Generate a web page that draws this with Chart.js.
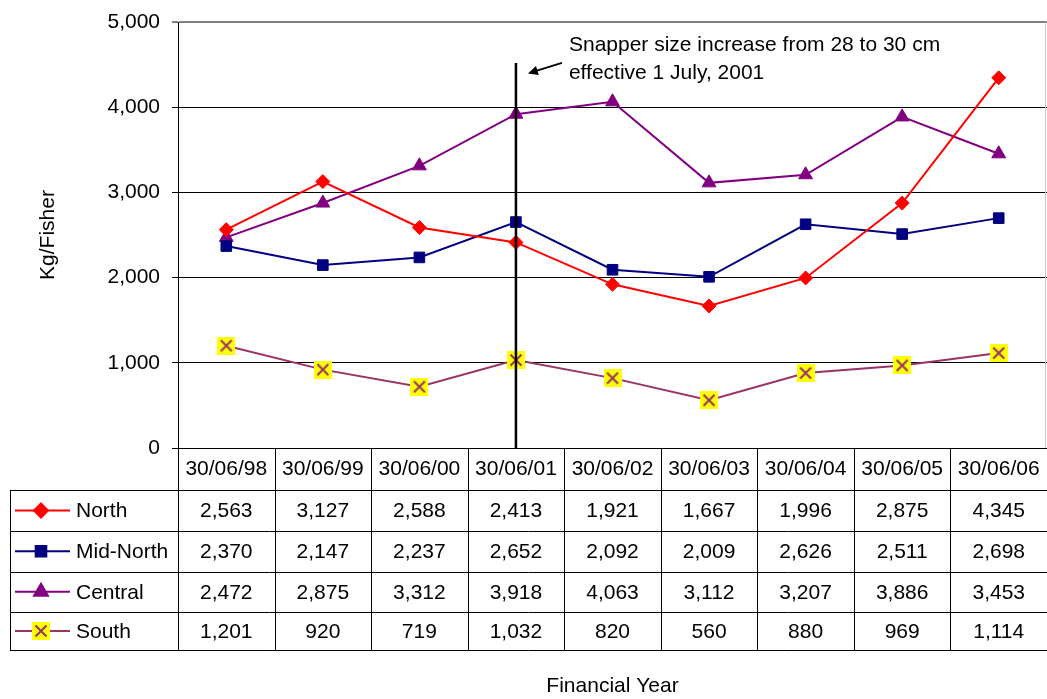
<!DOCTYPE html>
<html>
<head>
<meta charset="utf-8">
<script src="https://cdn.jsdelivr.net/npm/chart.js@4.4.0/dist/chart.umd.min.js"></script>
<style>
  html, body { margin: 0; padding: 0; background: #fff; overflow: hidden; }
  canvas { display: block; }
</style>
</head>
<body>
<canvas id="chart" width="1047" height="699"></canvas>
<script>
// Financial years (end of year) and catch per fisher by region
const years = ['30/06/98', '30/06/99', '30/06/00', '30/06/01', '30/06/02', '30/06/03', '30/06/04', '30/06/05', '30/06/06'];
const north = [2563, 3127, 2588, 2413, 1921, 1667, 1996, 2875, 4345];
const midNorth = [2370, 2147, 2237, 2652, 2092, 2009, 2626, 2511, 2698];
const central = [2472, 2875, 3312, 3918, 4063, 3112, 3207, 3886, 3453];
const south = [1201, 920, 719, 1032, 820, 560, 880, 969, 1114];
const yTicks = [0, 1000, 2000, 3000, 4000, 5000];

// Size-limit change marker
const changeYearIndex = 3;
const changeLineTop = 4520;
const noteLines = ['Snapper size increase from 28 to 30 cm', 'effective 1 July, 2001'];

const FONT_FAMILY = "'Liberation Sans', Arial, sans-serif";
const FONT_SIZE = 21;

// Yellow box with a plum cross, used for the South series
function makeCrossBox(size, fill, stroke) {
  const c = document.createElement('canvas');
  c.width = size; c.height = size;
  const g = c.getContext('2d');
  g.fillStyle = fill;
  g.fillRect(0, 0, size, size);
  g.strokeStyle = stroke;
  g.lineWidth = 2;
  const m = 3.5;
  g.beginPath();
  g.moveTo(m, m); g.lineTo(size - m, size - m);
  g.moveTo(size - m, m); g.lineTo(m, size - m);
  g.stroke();
  return c;
}
const crossBox = makeCrossBox(18, '#FFFF00', '#993366');

const series = [
  { label: 'North', data: north, color: '#FF0000', pointStyle: 'rectRot', radius: 7 },
  { label: 'Mid-North', data: midNorth, color: '#000080', pointStyle: 'rect', radius: 7.5 },
  { label: 'Central', data: central, color: '#800080', pointStyle: 'triangle', radius: 8 },
  { label: 'South', data: south, color: '#993366', pointStyle: crossBox, radius: 9 }
];

const fmt = v => v.toLocaleString('en-US');

function crisp(v) { return Math.round(v) + 0.5; }

// Data table drawn under the plot, aligned to the category scale
const dataTablePlugin = {
  id: 'dataTable',
  afterDraw(chart) {
    const { ctx, chartArea: a, scales: { x } } = chart;
    const n = years.length;
    const centers = years.map((_, i) => x.getPixelForValue(i));
    const bounds = [a.left];
    for (let i = 0; i < n - 1; i++) bounds.push((centers[i] + centers[i + 1]) / 2);
    const rows = [a.bottom + 42, a.bottom + 83, a.bottom + 123.5, a.bottom + 164, a.bottom + 202];
    const tableLeft = 10;

    ctx.save();
    ctx.strokeStyle = '#000';
    ctx.lineWidth = 1;
    ctx.beginPath();
    bounds.forEach(b => { ctx.moveTo(crisp(b), a.bottom); ctx.lineTo(crisp(b), rows[4]); });
    rows.forEach(y => { ctx.moveTo(tableLeft, crisp(y)); ctx.lineTo(a.right, crisp(y)); });
    ctx.moveTo(crisp(tableLeft), rows[0]); ctx.lineTo(crisp(tableLeft), rows[4]);
    ctx.stroke();

    // plot area right edge
    ctx.strokeStyle = '#c8c8c8';
    ctx.beginPath();
    ctx.moveTo(a.right - 1.5, a.top); ctx.lineTo(a.right - 1.5, a.bottom);
    ctx.stroke();

    ctx.font = FONT_SIZE + 'px ' + FONT_FAMILY;
    ctx.textBaseline = 'middle';
    series.forEach((s, r) => {
      const cy = (rows[r] + rows[r + 1]) / 2;
      // legend key
      ctx.strokeStyle = s.color;
      ctx.fillStyle = s.color;
      ctx.lineWidth = 2;
      ctx.beginPath();
      ctx.moveTo(15, cy); ctx.lineTo(70, cy);
      ctx.stroke();
      Chart.helpers.drawPoint(ctx, { pointStyle: s.pointStyle, radius: s.radius, rotation: 0, borderWidth: 1 }, 41, cy);
      ctx.fillStyle = '#000';
      ctx.textAlign = 'left';
      ctx.fillText(s.label, 76, cy + 1);
      // values
      ctx.textAlign = 'center';
      s.data.forEach((v, i) => ctx.fillText(fmt(v), centers[i], cy + 1));
    });
    ctx.restore();
  }
};

// Vertical marker line with an arrowed note
const changeNotePlugin = {
  id: 'changeNote',
  afterDatasetsDraw(chart) {
    const { ctx, chartArea: a, scales: { x, y } } = chart;
    const lx = x.getPixelForValue(changeYearIndex);
    const ty = y.getPixelForValue(changeLineTop);
    ctx.save();
    ctx.strokeStyle = '#000';
    ctx.fillStyle = '#000';
    ctx.lineWidth = 2.5;
    ctx.beginPath();
    ctx.moveTo(lx, ty); ctx.lineTo(lx, a.bottom);
    ctx.stroke();

    // arrow pointing at the line
    const x0 = lx + 46, y0 = ty, x1 = lx + 12, y1 = ty + 10.5;
    const ang = Math.atan2(y1 - y0, x1 - x0);
    ctx.lineWidth = 2;
    ctx.beginPath();
    ctx.moveTo(x0, y0); ctx.lineTo(x1 - Math.cos(ang) * 6, y1 - Math.sin(ang) * 6);
    ctx.stroke();
    ctx.beginPath();
    ctx.moveTo(x1, y1);
    ctx.lineTo(x1 - Math.cos(ang - 0.45) * 11, y1 - Math.sin(ang - 0.45) * 11);
    ctx.lineTo(x1 - Math.cos(ang + 0.45) * 11, y1 - Math.sin(ang + 0.45) * 11);
    ctx.closePath();
    ctx.fill();

    ctx.font = FONT_SIZE + 'px ' + FONT_FAMILY;
    ctx.textAlign = 'left';
    ctx.textBaseline = 'middle';
    ctx.fillText(noteLines[0], lx + 53, ty - 18);
    ctx.fillText(noteLines[1], lx + 53, ty + 10);
    ctx.restore();
  }
};

const font = { family: FONT_FAMILY, size: FONT_SIZE };

new Chart(document.getElementById('chart'), {
  type: 'line',
  data: {
    labels: years,
    datasets: series.map(s => ({
      label: s.label,
      data: s.data,
      borderColor: s.color,
      backgroundColor: s.color,
      borderWidth: 2,
      tension: 0,
      clip: false,
      pointStyle: s.pointStyle,
      pointRadius: s.radius,
      pointHoverRadius: s.radius,
      pointBorderWidth: 1,
      pointBorderColor: s.color,
      pointBackgroundColor: s.color
    }))
  },
  options: {
    responsive: false,
    maintainAspectRatio: false,
    devicePixelRatio: 1,
    animation: false,
    events: [],
    layout: { autoPadding: false, padding: { top: 22, right: 0, left: 0, bottom: 0 } },
    plugins: { legend: { display: false }, tooltip: { enabled: false } },
    scales: {
      x: {
        type: 'category',
        offset: true,
        grid: { display: true, drawOnChartArea: false, drawTicks: false },
        border: { display: true, color: '#000', width: 1 },
        ticks: { font, color: '#000', padding: 9, maxRotation: 0, autoSkip: false },
        title: { display: true, text: 'Financial Year', font, color: '#000', padding: { top: 0, bottom: 0 } },
        afterFit(s) { s.height = 251; s.paddingLeft = 0; s.paddingRight = 0; }
      },
      y: {
        min: yTicks[0],
        max: yTicks[yTicks.length - 1],
        afterBuildTicks(s) { s.ticks = yTicks.map(v => ({ value: v })); },
        ticks: { font, color: '#000', padding: 12, callback: v => fmt(v) },
        grid: {
          color: c => (c.tick && c.tick.value === 5000 ? '#808080' : '#000'),
          lineWidth: c => (c.tick && c.tick.value === 5000 ? 2 : 1),
          tickLength: 6,
          drawTicks: true
        },
        border: { display: true, color: '#000', width: 1 },
        title: { display: true, text: 'Kg/Fisher', font, color: '#000', padding: { top: 36, bottom: 0 } },
        afterFit(s) { s.width = 178; s.paddingTop = 0; s.paddingBottom = 0; }
      }
    }
  },
  plugins: [dataTablePlugin, changeNotePlugin]
});
</script>
</body>
</html>
